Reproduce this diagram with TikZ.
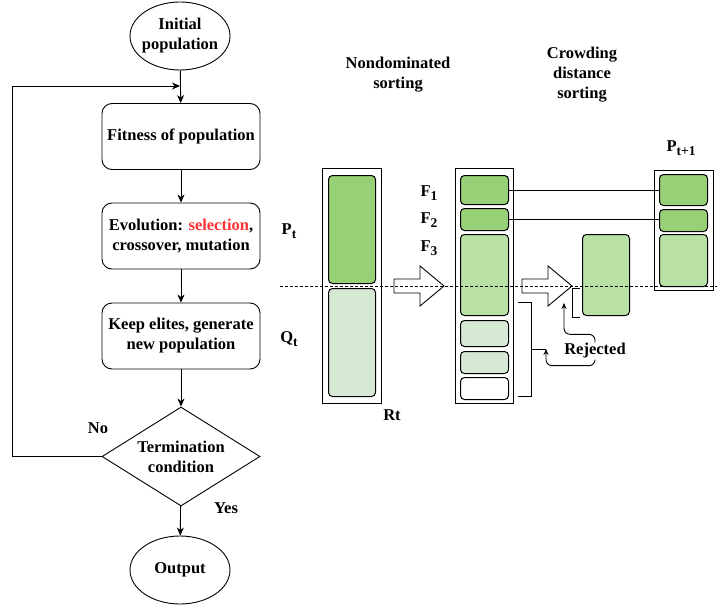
\documentclass[tikz,border=0pt]{standalone}
\usepackage{fontspec}
\setmainfont{Liberation Serif}
\usepackage{tikz}
\usetikzlibrary{arrows.meta,shapes.geometric}
\definecolor{dkg}{HTML}{97D077}
\definecolor{mdg}{HTML}{B9E0A5}
\definecolor{ltg}{HTML}{D5E8D4}
\definecolor{selred}{HTML}{FF3333}
\newcommand\lowsub[1]{\raisebox{-3.5pt}{\fontsize{13.5}{14}\selectfont #1}}
\tikzset{
  lbl/.style={font=\fontsize{16.5}{20}\selectfont\bfseries, align=center, inner sep=1pt},
  proc/.style={lbl, draw, rounded corners=10pt, line width=0.9pt, minimum width=158pt, minimum height=66pt},
  term/.style={lbl, draw, ellipse, line width=0.9pt, inner xsep=-5pt, inner ysep=0pt, minimum width=100pt, minimum height=68pt},
  cond/.style={lbl, draw, diamond, line width=0.9pt, inner sep=0pt, shape aspect=1.63, minimum width=158pt, minimum height=99pt},
  outer/.style={draw, line width=0.8pt, anchor=north west, inner sep=0pt},
  sub/.style={draw, line width=1pt, rounded corners=4pt, anchor=north west, inner sep=0pt},
  flow/.style={-{Stealth[length=8pt,width=7pt,inset=2.5pt]}, line width=0.9pt},
  rflow/.style={-{Stealth[length=6pt,width=5pt,inset=2pt]}, line width=0.9pt, rounded corners=6pt},
}
\begin{document}
\begin{tikzpicture}[x=1pt,y=-1pt]
  \useasboundingbox (0,0) rectangle (717,607);
  % flowchart
  \node[term] (init) at (180,36) {Initial\\population};
  \node[proc] (fitb) at (181,136.5) {Fitness of population};
  \node[proc] (evo) at (181,236) {Evolution: \textcolor{selred}{selection},\\crossover, mutation};
  \node[proc] (keep) at (181,336) {Keep elites, generate\\new population};
  \node[cond] (dia) at (181,456.5) {Termination\\condition};
  \node[term] (out) at (180,570) {Output};
  \coordinate (join) at (180,86);
  \draw[flow] (init) -- (fitb);
  \draw[flow] (fitb) -- (evo);
  \draw[flow] (evo) -- (keep);
  \draw[flow] (keep) -- (dia);
  \draw[flow] (dia) -- (out);
  \draw[flow] (dia.west) -- ++(-89,0) |- (join);
  \node[lbl] (no) at (98,428) {No};
  \node[lbl] (yes) at (226,508) {Yes};
  % NSGA-II sorting
  \node[lbl] (nds) at (398,75) {Nondominated\\sorting};
  \node[lbl] (cds) at (582,75) {Crowding\\distance\\sorting};
  \node[outer, minimum width=59pt, minimum height=235pt] (rt) at (322,168) {};
  \node[sub, fill=dkg, minimum width=47pt, minimum height=108pt] (pt) at (328,175) {};
  \node[sub, fill=ltg, minimum width=47pt, minimum height=108pt] (qt) at (328,288) {};
  \node[lbl] (ptl) at (289,231) {P\lowsub{t}};
  \node[lbl] (qtl) at (289,339) {Q\lowsub{t}};
  \node[lbl] (rtl) at (392,415) {Rt};
  \node[outer, minimum width=58pt, minimum height=235pt] (fr) at (455,168) {};
  \foreach \n/\y/\h/\c in {f1/175/29/dkg, f2/208/22/dkg, f3/234/81/mdg, f4/320/26/ltg, f5/351/22/ltg, f6/377/22/white}
    \node[sub, fill=\c, minimum width=48pt, minimum height=\h] (\n) at (460,\y) {};
  \foreach \i/\y in {1/193, 2/220, 3/248}
    \node[lbl] (fl\i) at (429,\y) {F\lowsub{\i}};
  \foreach \x in {394,522}
    \draw[line width=0.9pt, fill=white] (\x,279) -- ++(26,0) -- ++(0,-13) -- ++(24,20) -- ++(-24,20) -- ++(0,-13) -- ++(-26,0) -- cycle;
  \node[sub, fill=mdg, minimum width=47pt, minimum height=81pt] (cd) at (582,234) {};
  \node[outer, minimum width=59pt, minimum height=120pt] (pn) at (654,170) {};
  \node[sub, fill=dkg, minimum width=48pt, minimum height=31pt] (n1) at (659,174) {};
  \node[sub, fill=dkg, minimum width=48pt, minimum height=22pt] (n2) at (659,209) {};
  \node[sub, fill=mdg, minimum width=48pt, minimum height=52pt] (n3) at (659,234) {};
  \node[lbl] (pnl) at (681,148) {P\lowsub{t+1}};
  \draw[line width=0.9pt] (f1.east) -- (n1.west);
  \draw[line width=0.9pt] (f2.east) -- (n2.west |- f2.east);
  % rejected fronts
  \draw[line width=1pt] (518,302) -- (531,302) -- (531,396) -- (518,396);
  \draw[line width=1pt] (580,288) -- (572,288) -- (572,317) -- (580,317);
  \coordinate (tick1) at (546,349);
  \coordinate (tick2) at (564,303);
  \draw[line width=1pt] (531,349) -- (tick1);
  \node[lbl] (rej) at (595,351) {Rejected};
  \draw[rflow] (rej.south) -- ++(0,6) -| (tick1);
  \draw[rflow] (rej.north) -- ++(0,-8) -| (tick2);
  \draw[line width=0.8pt, dash pattern=on 2.5pt off 2.5pt] (280,286) -- (717,286);
\end{tikzpicture}
\end{document}
